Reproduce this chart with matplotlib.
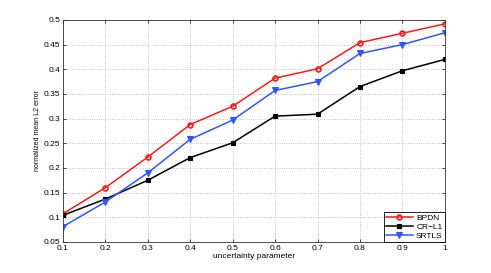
import matplotlib
matplotlib.use('Agg')
import matplotlib.pyplot as plt

plt.rcParams['font.family'] = ['Liberation Sans', 'DejaVu Sans']

x = [0.1, 0.2, 0.3, 0.4, 0.5, 0.6, 0.7, 0.8, 0.9, 1.0]
bpdn = [0.107, 0.160, 0.222, 0.288, 0.325, 0.382, 0.401, 0.454, 0.473, 0.492]
crl1 = [0.104, 0.137, 0.175, 0.221, 0.251, 0.305, 0.309, 0.365, 0.397, 0.420]
srtls = [0.081, 0.131, 0.190, 0.258, 0.297, 0.357, 0.375, 0.432, 0.450, 0.474]

xticks = [0.1, 0.2, 0.3, 0.4, 0.5, 0.6, 0.7, 0.8, 0.9, 1.0]
xtick_labels = ['0.1', '0.2', '0.3', '0.4', '0.5', '0.6', '0.7', '0.8', '0.9', '1']
yticks = [0.05, 0.1, 0.15, 0.2, 0.25, 0.3, 0.35, 0.4, 0.45, 0.5]
ytick_labels = ['0.05', '0.1', '0.15', '0.2', '0.25', '0.3', '0.35', '0.4', '0.45', '0.5']

fig = plt.figure(figsize=(4.91, 2.73), dpi=100)
ax = fig.add_axes([0.128, 0.1136, 0.778, 0.8134])

ax.plot(x, bpdn, '-o', color='#ff1a1a', lw=1.1, ms=3.5, mfc='none', mew=1.2, label='BPDN')
ax.plot(x, crl1, '-s', color='black', lw=1.1, ms=3, mfc='black', mew=0.8, label='CR\u2212L1')
ax.plot(x, srtls, '-v', color='#3355ff', lw=1.1, ms=4, mfc='#3355ff', mew=0.8, label='SRTLS')

ax.set_xlim(0.1, 1.0)
ax.set_ylim(0.05, 0.5)
ax.set_xticks(xticks)
ax.set_xticklabels(xtick_labels)
ax.set_yticks(yticks)
ax.set_yticklabels(ytick_labels)
ax.tick_params(labelsize=6, length=2, width=0.5, direction='in', top=True, right=True, pad=2)
ax.grid(True, linestyle=':', color='#b0b0b0', linewidth=0.6)
for s in ax.spines.values():
    s.set_linewidth(0.6)
    s.set_color('#333333')

ax.set_xlabel('uncertainty parameter', fontsize=6, labelpad=1)
ax.set_ylabel('normalized mean L2 error', fontsize=5, labelpad=2)

leg = ax.legend(loc='lower right', fontsize=6, fancybox=False, framealpha=1,
                edgecolor='black', borderpad=0.25, labelspacing=0.15,
                handlelength=3.2, handletextpad=0.4, borderaxespad=0)
leg.get_frame().set_linewidth(0.6)

fig.savefig('out.png', dpi=100)
